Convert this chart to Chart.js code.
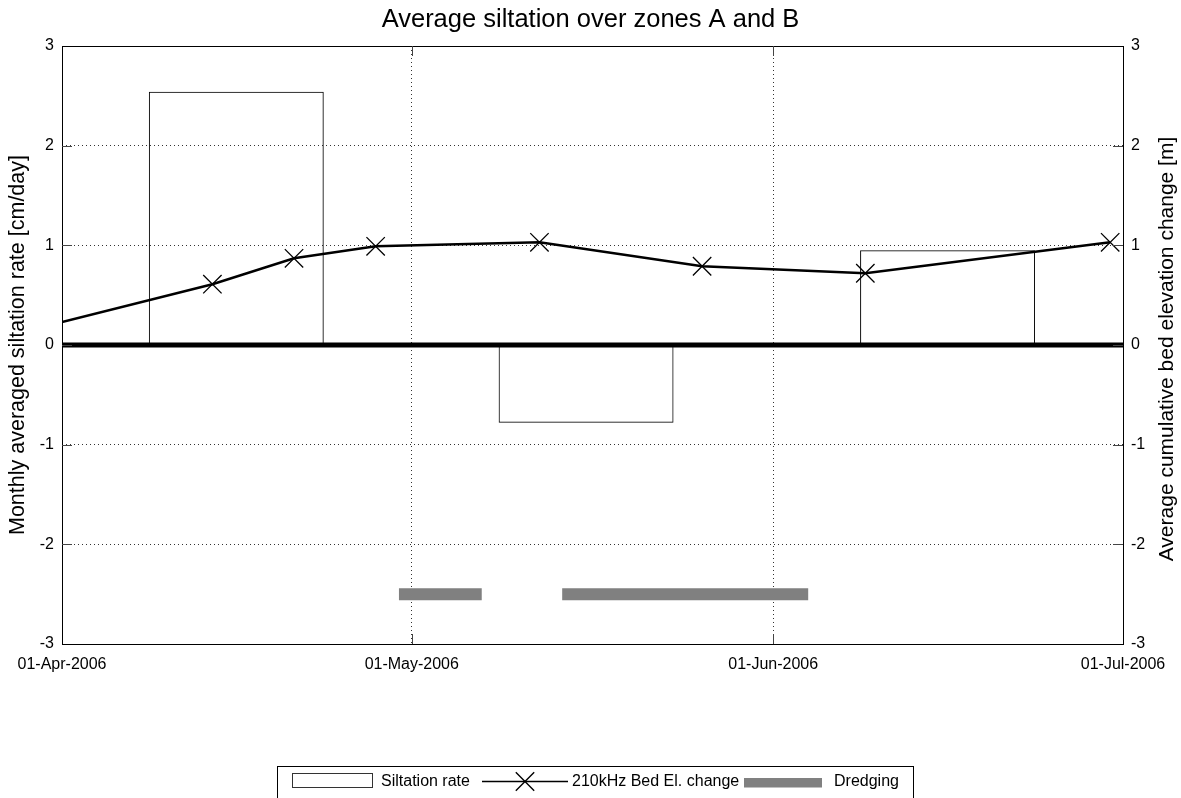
<!DOCTYPE html>
<html>
<head>
<meta charset="utf-8">
<script src="https://cdn.jsdelivr.net/npm/chart.js@4.4.1/dist/chart.umd.min.js"></script>
<style>
  html, body { margin: 0; padding: 0; background: #fff; }
  #wrap { width: 1181px; height: 798px; position: relative; }
</style>
</head>
<body>
<div id="wrap"><canvas id="c" width="1181" height="798"></canvas></div>
<script>
// Time axis in days counted from 01-Apr-2006
const tickDays = [0, 30, 61, 91];
const tickLabels = ['01-Apr-2006', '01-May-2006', '01-Jun-2006', '01-Jul-2006'];

// Monthly averaged siltation rate [cm/day], bars centred mid-month
const siltDays = [14.95, 44.95, 75.95];
const siltRate = [2.54, -0.78, 0.95];

// 210kHz cumulative bed elevation change [m]
const bedDays = [0, 12.9, 19.9, 26.9, 40.95, 54.9, 68.9, 89.9];
const bedChange = [0.23, 0.61, 0.87, 0.99, 1.03, 0.79, 0.72, 1.03];

// Dredging periods (start / end day) and the level they are drawn at
const dredgeStart = [28.9, 42.9];
const dredgeEnd = [36.0, 64.0];
const dredgeLevel = -2.5;

const FONT = "'Liberation Sans', Arial, Helvetica, sans-serif";
Chart.defaults.font.family = FONT;
Chart.defaults.color = '#000';

const dredgePoints = [];
dredgeStart.forEach((s, i) => {
  dredgePoints.push({ x: s, y: dredgeLevel }, { x: dredgeEnd[i], y: dredgeLevel });
  if (i < dredgeStart.length - 1) dredgePoints.push({ x: (dredgeEnd[i] + dredgeStart[i + 1]) / 2, y: null });
});

const xMin = tickDays[0], xMax = tickDays[tickDays.length - 1];
const hiddenEdge = (v) => v === -3 || v === 0 || v === 3;

// Axes box, inward tick marks, right-hand axis title and boxed legend
const framePlugin = {
  id: 'frame',
  afterDraw(chart) {
    const { ctx, chartArea: a, scales } = chart;
    ctx.save();
    ctx.strokeStyle = '#000';
    ctx.lineWidth = 1;
    ctx.strokeRect(Math.round(a.left) + 0.5, Math.round(a.top) + 0.5,
                   Math.round(a.right - a.left), Math.round(a.bottom - a.top));

    ctx.strokeStyle = '#444';
    ctx.beginPath();
    scales.y.ticks.forEach((t) => {
      if (t.value === -3 || t.value === 3) return;
      const py = Math.round(scales.y.getPixelForValue(t.value)) + 0.5;
      ctx.moveTo(a.left, py); ctx.lineTo(a.left + 10, py);
      ctx.moveTo(a.right - 10, py); ctx.lineTo(a.right, py);
    });
    scales.x.ticks.forEach((t) => {
      if (t.value === xMin || t.value === xMax) return;
      const px = Math.round(scales.x.getPixelForValue(t.value)) + 0.5;
      ctx.moveTo(px, a.bottom); ctx.lineTo(px, a.bottom - 10);
      ctx.moveTo(px, a.top); ctx.lineTo(px, a.top + 10);
    });
    ctx.stroke();

    // right axis title, reading bottom to top
    ctx.fillStyle = '#000';
    ctx.font = '21px ' + FONT;
    ctx.textAlign = 'center';
    ctx.textBaseline = 'middle';
    ctx.translate(1167, (a.top + a.bottom) / 2 + 4);
    ctx.rotate(-Math.PI / 2);
    ctx.fillText('Average cumulative bed elevation change [m]', 0, 0);
    ctx.restore();

    // legend
    ctx.save();
    const ly = 781.5;
    ctx.strokeStyle = '#000';
    ctx.lineWidth = 1;
    ctx.strokeRect(277.5, 766.5, 636, 40);
    ctx.strokeStyle = '#333';
    ctx.strokeRect(292.5, 773.5, 80, 14);
    ctx.fillStyle = '#000';
    ctx.font = '16px ' + FONT;
    ctx.textAlign = 'left';
    ctx.textBaseline = 'middle';
    ctx.fillText('Siltation rate', 381, ly);
    ctx.strokeStyle = '#000';
    ctx.lineWidth = 1.4;
    ctx.beginPath();
    ctx.moveTo(482, ly); ctx.lineTo(568, ly);
    ctx.stroke();
    Chart.helpers.drawPoint(ctx, { pointStyle: 'crossRot', radius: 13, borderWidth: 1.3, rotation: 0 }, 525, ly);
    ctx.fillText('210kHz Bed El. change', 572, ly);
    ctx.fillStyle = '#808080';
    ctx.fillRect(744, 778, 78, 9.5);
    ctx.fillStyle = '#000';
    ctx.fillText('Dredging', 834, ly);
    ctx.restore();
  }
};

new Chart(document.getElementById('c'), {
  type: 'line',
  data: {
    datasets: [
      {
        label: '210kHz Bed El. change',
        type: 'line',
        yAxisID: 'y2',
        data: bedDays.map((d, i) => ({ x: d, y: bedChange[i] })),
        borderColor: '#000',
        borderWidth: 2.5,
        tension: 0,
        pointStyle: 'crossRot',
        pointRadius: bedDays.map((d, i) => (i === 0 ? 0 : 13)),
        pointBorderWidth: 1.3,
        pointBorderColor: '#000',
        pointBackgroundColor: 'rgba(0,0,0,0)',
        order: 0
      },
      {
        label: 'zero',
        type: 'line',
        yAxisID: 'y',
        data: [{ x: xMin, y: 0 }, { x: xMax, y: 0 }],
        borderColor: '#000',
        borderWidth: 5,
        pointRadius: 0,
        order: 1
      },
      {
        label: 'Dredging',
        type: 'line',
        yAxisID: 'y',
        data: dredgePoints,
        borderColor: '#808080',
        borderWidth: 12,
        borderCapStyle: 'butt',
        spanGaps: false,
        pointRadius: 0,
        order: 2
      },
      {
        label: 'Siltation rate',
        type: 'bar',
        yAxisID: 'y',
        data: siltDays.map((d, i) => ({ x: d, y: siltRate[i] })),
        backgroundColor: 'rgba(0,0,0,0)',
        borderColor: '#000',
        borderWidth: 1,
        barPercentage: 0.5,
        categoryPercentage: 1,
        order: 3
      }
    ]
  },
  options: {
    responsive: false,
    animation: false,
    events: [],
    layout: { padding: 0 },
    plugins: {
      legend: { display: false },
      tooltip: { enabled: false },
      title: {
        display: true,
        text: 'Average siltation over zones A and B',
        font: { size: 25.5, weight: 'normal', lineHeight: 1.2 },
        color: '#000',
        padding: { top: 5, bottom: 10.4 }
      }
    },
    scales: {
      x: {
        type: 'linear',
        position: 'bottom',
        min: xMin,
        max: xMax,
        offset: false,
        afterBuildTicks(scale) { scale.ticks = tickDays.map((v) => ({ value: v })); },
        afterFit(scale) { scale.height = 154; },
        ticks: {
          autoSkip: false,
          maxRotation: 0,
          minRotation: 0,
          padding: 10.5,
          font: { size: 16 },
          color: '#000',
          callback: (v) => { const i = tickDays.indexOf(v); return i >= 0 ? tickLabels[i] : ''; }
        },
        grid: {
          drawTicks: false,
          offset: false,
          lineWidth: 1,
          color: (c) => (c.tick && (c.tick.value === xMin || c.tick.value === xMax)) ? 'rgba(0,0,0,0)' : '#333'
        },
        border: { display: false, dash: [1, 3] }
      },
      y: {
        type: 'linear',
        position: 'left',
        min: -3,
        max: 3,
        afterFit(scale) { scale.width = 62; },
        ticks: { stepSize: 1, padding: 8, font: { size: 16 }, color: '#000' },
        grid: {
          drawTicks: false,
          lineWidth: 1,
          color: (c) => (c.tick && hiddenEdge(c.tick.value)) ? 'rgba(0,0,0,0)' : '#333'
        },
        border: { display: false, dash: [1, 3] },
        title: {
          display: true,
          text: 'Monthly averaged siltation rate [cm/day]',
          font: { size: 21.5 },
          color: '#000',
          padding: { top: 5, bottom: 0 }
        }
      },
      y2: {
        type: 'linear',
        position: 'right',
        min: -3,
        max: 3,
        afterFit(scale) { scale.width = 58; },
        ticks: { stepSize: 1, padding: 8, font: { size: 16 }, color: '#000' },
        grid: { display: false, drawTicks: false },
        border: { display: false }
      }
    }
  },
  plugins: [framePlugin]
});
</script>
</body>
</html>
